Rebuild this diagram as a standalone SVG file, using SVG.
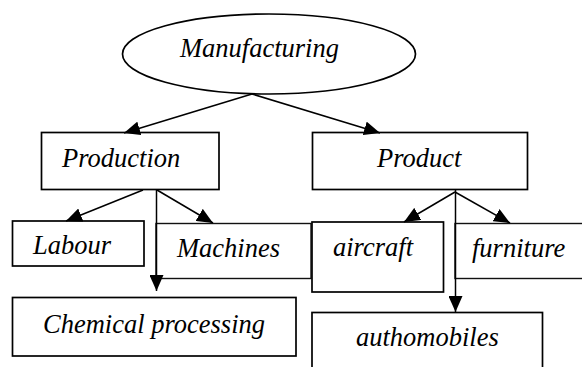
<svg xmlns="http://www.w3.org/2000/svg" width="582" height="367" viewBox="0 0 582 367">
<style>
.box{fill:#fff;stroke:#000;stroke-width:1.7}
.thin{fill:#fff;stroke:#111;stroke-width:1.4}
.lbl{font-family:"Liberation Serif","Times New Roman",serif;font-style:italic;font-size:26.5px;fill:#000}
.conn{fill:none;stroke:#000;stroke-width:1.5;marker-end:url(#arr)}
</style>
<defs>
<marker id="arr" markerUnits="userSpaceOnUse" markerWidth="16" markerHeight="14" viewBox="0 0 16 14" refX="16" refY="7" orient="auto">
<path d="M0,0 L16,7 L0,14 z" fill="#000"/>
</marker>
</defs>
<rect width="582" height="367" fill="#fff"/>
<g id="manufacturing">
<ellipse cx="269" cy="54" rx="146.5" ry="40" class="box"/>
<text x="180" y="57" class="lbl">Manufacturing</text>
</g>
<g id="production">
<rect x="41.5" y="132.5" width="177.5" height="57" class="box"/>
<text x="62" y="167" class="lbl">Production</text>
</g>
<g id="product">
<rect x="312.5" y="132.5" width="215" height="57" class="box"/>
<text x="377" y="167" class="lbl">Product</text>
</g>
<g id="labour">
<rect x="12.5" y="221" width="131.5" height="45" class="box"/>
<text x="33" y="254" class="lbl">Labour</text>
</g>
<g id="machines">
<rect x="156" y="223.5" width="155" height="55" class="thin"/>
<text x="177" y="257" class="lbl">Machines</text>
</g>
<g id="aircraft">
<rect x="312" y="222" width="131.5" height="70" class="box"/>
<text x="333" y="256" class="lbl">aircraft</text>
</g>
<g id="furniture">
<rect x="455" y="223.5" width="135" height="55" class="thin"/>
<text x="472" y="257" class="lbl">furniture</text>
</g>
<g id="chemical">
<rect x="12.5" y="297.5" width="283.5" height="58.5" class="box"/>
<text x="43" y="333" class="lbl">Chemical processing</text>
</g>
<g id="authomobiles">
<rect x="312" y="312.5" width="230.5" height="60" class="box"/>
<text x="356" y="346" class="lbl">authomobiles</text>
</g>
<g id="connectors">
<line x1="252" y1="94" x2="124" y2="133" class="conn"/>
<line x1="252" y1="94" x2="380" y2="133" class="conn"/>
<line x1="143" y1="190" x2="66" y2="221" class="conn"/>
<line x1="156.5" y1="190" x2="156.5" y2="291" class="conn"/>
<line x1="157" y1="190" x2="213" y2="223" class="conn"/>
<line x1="455" y1="192" x2="404" y2="222" class="conn"/>
<line x1="455" y1="192" x2="510" y2="223" class="conn"/>
<line x1="455.5" y1="190" x2="455.5" y2="312" class="conn"/>
</g>
</svg>
